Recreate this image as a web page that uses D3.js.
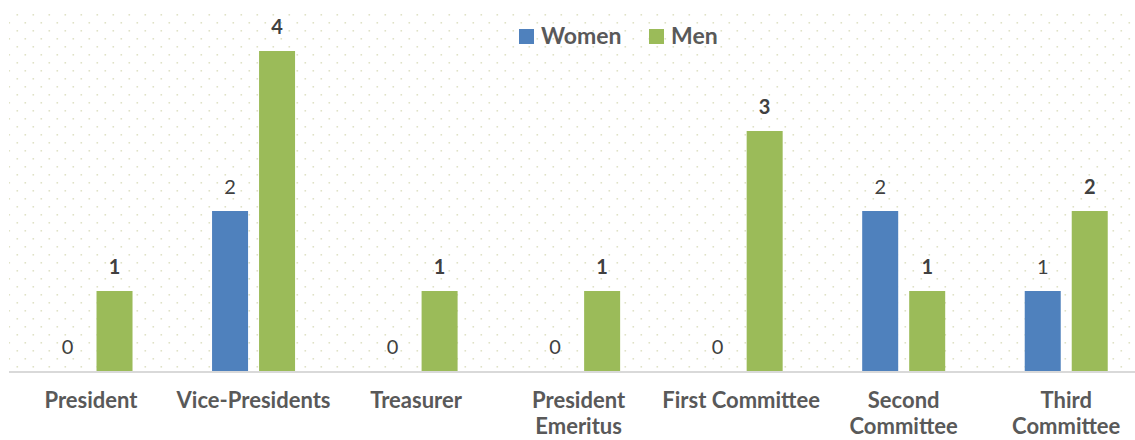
<!DOCTYPE html>
<html>
<head>
<meta charset="utf-8">
<script src="https://cdn.jsdelivr.net/npm/d3@7"></script>
<style>
  body { margin: 0; background: #fff; }
  svg { display: block; font-family: Lato, "Open Sans", sans-serif; }
</style>
</head>
<body>
<div id="chart"></div>
<script>
// Officers by gender

var categories = ["President", "Vice-Presidents", "Treasurer", "President Emeritus",
  "First Committee", "Second Committee", "Third Committee"];
var series = ["Women", "Men"];
var women = [0, 2, 0, 0, 0, 2, 1];
var men = [1, 4, 1, 1, 3, 1, 2];
var colors = ["#4f81bd", "#9bbb59"];

var width = 1135, height = 440;
var plot = {left: 9.75, right: 1147.5, top: 11, bottom: 371};

var svg = d3.select("#chart").append("svg")
  .attr("width", width)
  .attr("height", height);

// dotted plot background
var pat = svg.append("defs").append("pattern")
  .attr("id", "dots")
  .attr("patternUnits", "userSpaceOnUse")
  .attr("width", 16).attr("height", 16);
pat.append("rect").attr("x", 0.5).attr("y", 14).attr("width", 1.6).attr("height", 1.6).attr("fill", "#dfe2c6");
pat.append("rect").attr("x", 8.5).attr("y", 6).attr("width", 1.6).attr("height", 1.6).attr("fill", "#dfe2c6");

svg.append("rect")
  .attr("x", 9).attr("y", plot.top)
  .attr("width", width - 9).attr("height", plot.bottom - plot.top)
  .attr("fill", "url(#dots)");

var x0 = d3.scaleBand()
  .domain(categories)
  .range([plot.left, plot.right]);

var x1 = d3.scaleBand()
  .domain(series)
  .range([0, x0.bandwidth()])
  .paddingInner(0.234)
  .paddingOuter(0.846);

var y = d3.scaleLinear()
  .domain([0, 4.5])
  .range([plot.bottom, plot.top]);

var rows = categories.map(function(c, i) {
  return {cat: c, values: [women[i], men[i]]};
});

var groups = svg.selectAll(".group")
  .data(rows)
  .enter().append("g")
  .attr("class", "group")
  .attr("transform", d => "translate(" + x0(d.cat) + ",0)");

groups.selectAll("rect")
  .data(d => d.values.map((v, j) => ({s: series[j], v: v, j: j})))
  .enter().append("rect")
  .attr("x", d => x1(d.s))
  .attr("y", d => y(d.v))
  .attr("width", x1.bandwidth())
  .attr("height", d => y(0) - y(d.v))
  .attr("fill", d => colors[d.j]);

groups.selectAll(".val")
  .data(d => d.values.map((v, j) => ({s: series[j], v: v, j: j})))
  .enter().append("text")
  .attr("class", "val")
  .attr("x", d => x1(d.s) + x1.bandwidth() / 2)
  .attr("y", d => y(d.v) - 17)
  .attr("text-anchor", "middle")
  .attr("font-size", "20px")
  .attr("font-weight", d => d.j == 1 ? "bold" : "normal")
  .attr("fill", "#404040")
  .text(d => d.v);

// baseline
svg.append("line")
  .attr("x1", 9).attr("x2", width)
  .attr("y1", y(0) + 1).attr("y2", y(0) + 1)
  .attr("stroke", "#d9d9d9")
  .attr("stroke-width", 2);

// category labels, wrapped to the band width
var labels = svg.selectAll(".cat")
  .data(categories)
  .enter().append("text")
  .attr("class", "cat")
  .attr("text-anchor", "middle")
  .attr("font-size", "22px")
  .attr("font-weight", "bold")
  .attr("fill", "#595959");

labels.each(function(c) {
  var t = d3.select(this);
  var cx = x0(c) + x0.bandwidth() / 2;
  t.text(c);
  var lines = [c];
  if (this.getComputedTextLength() > x0.bandwidth()) {
    lines = c.split(" ");
  }
  t.text(null);
  lines.forEach(function(l, k) {
    t.append("tspan")
      .attr("x", cx)
      .attr("y", 408 + k * 26)
      .text(l);
  });
});

// legend
var legend = svg.append("g").attr("class", "legend");
var legX = [519, 649];
series.forEach(function(s, i) {
  legend.append("rect")
    .attr("x", legX[i]).attr("y", 29)
    .attr("width", 15).attr("height", 15)
    .attr("fill", colors[i]);
  legend.append("text")
    .attr("x", legX[i] + 22).attr("y", 44)
    .attr("font-size", "23px")
    .attr("font-weight", "bold")
    .attr("fill", "#595959")
    .text(s);
});
</script>
</body>
</html>
